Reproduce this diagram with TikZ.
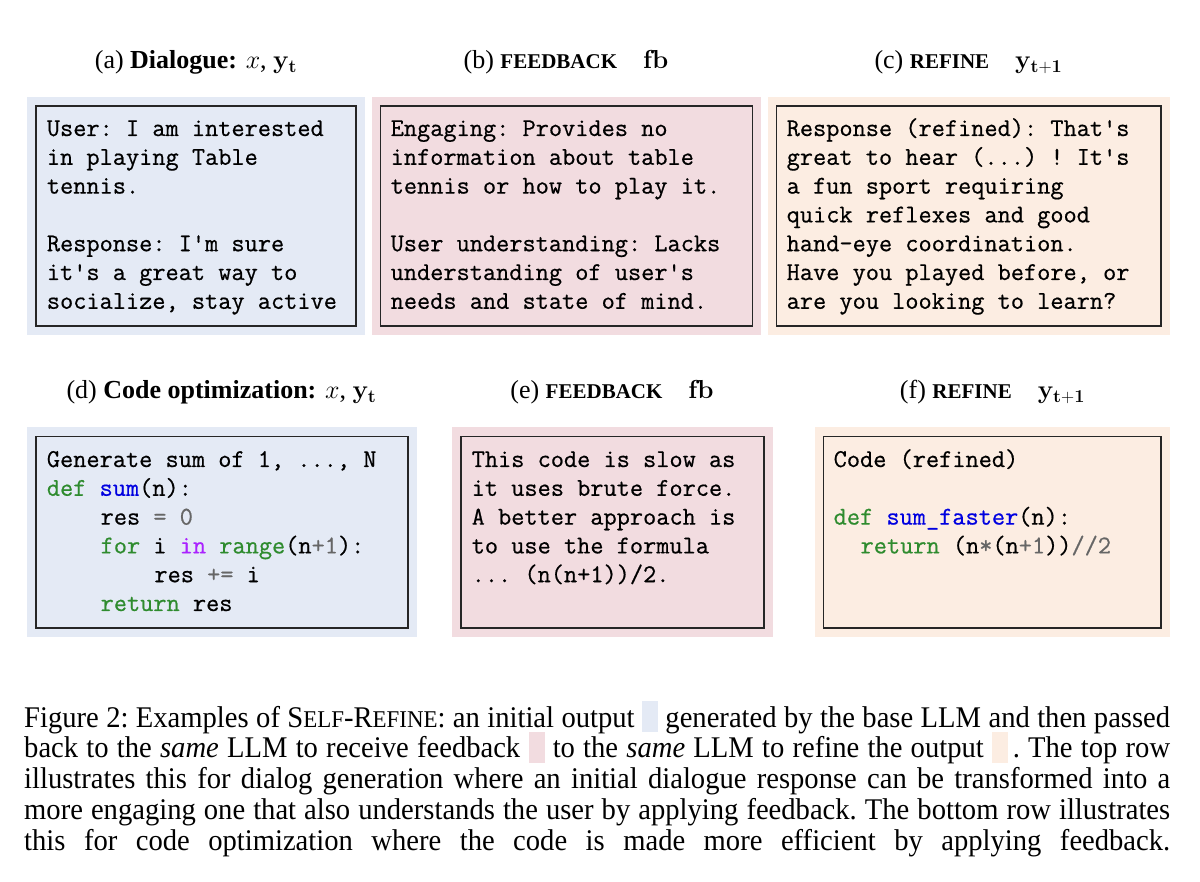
\RequirePackage{fix-cm}
\documentclass[tikz,border=0pt]{standalone}
\usepackage[no-math]{fontspec}
\setmainfont{Liberation Serif}
\setmonofont{Latin Modern Mono}[FakeBold=0.6]
\usepackage{graphicx}
\usepackage{xcolor}
\definecolor{bgblue}{RGB}{228,234,245}
\definecolor{bgpink}{RGB}{242,220,224}
\definecolor{bgpeach}{RGB}{252,237,226}
\definecolor{kwc}{HTML}{2E8B2E}
\definecolor{fnc}{HTML}{0000E0}
\definecolor{owc}{HTML}{AA22FF}
\definecolor{opc}{HTML}{666666}
\newlength\cw \setlength\cw{13.44pt}
\newcommand\monoset{\ttfamily\fontsize{25.6pt}{28.8pt}\selectfont}
\newcommand\ind[1]{\hspace*{#1\cw}}
\newcommand\Kw[1]{\textcolor{kwc}{#1}}
\newcommand\Fn[1]{\textcolor{fnc}{#1}}
\newcommand\Ow[1]{\textcolor{owc}{#1}}
\newcommand\Op[1]{\textcolor{opc}{#1}}
\newcommand\q{\textquotesingle}
\newcommand\sqbox[1]{\textcolor{#1}{\rule[-4.5pt]{16pt}{29.5pt}}}
\newcommand\fakesc[1]{{\fontsize{21pt}{25pt}\selectfont #1}}
\newcommand\capsc[1]{{\fontsize{22.9pt}{25pt}\selectfont #1}}
\tikzset{
  frame/.style={draw=black!85, line width=1.3pt},
  body/.style={anchor=base west, inner sep=0pt},
  title/.style={anchor=base, inner sep=0pt, font=\fontsize{26pt}{30pt}\selectfont},
}
\begin{document}
\begin{tikzpicture}[x=1pt,y=1pt]
\fill[white] (0,0) rectangle (1200,-882);
\useasboundingbox (0,0) rectangle (1200,-882);

% titles
\node[title] (ha) at (196,-68.5) {(a) \textbf{Dialogue:} $x$, $\mathbf{y_t}$};
\node[title] (hb) at (566,-68.5) {(b) \textbf{\fakesc{FEEDBACK}}\quad$\mathbf{fb}$};
\node[title] (hc) at (968.5,-68.5) {(c) \textbf{\fakesc{REFINE}}\quad$\mathbf{y_{t+1}}$};
\node[title] (hd) at (221.5,-399) {(d) \textbf{Code optimization:} $x$, $\mathbf{y_t}$};
\node[title] (he) at (612,-399) {(e) \textbf{\fakesc{FEEDBACK}}\quad$\mathbf{fb}$};
\node[title] (hf) at (992.5,-399) {(f) \textbf{\fakesc{REFINE}}\quad$\mathbf{y_{t+1}}$};

% backgrounds
\fill[bgblue]  (27,-97) rectangle (365,-335);
\fill[bgpink]  (371.5,-97) rectangle (761,-335);
\fill[bgpeach] (767.5,-97) rectangle (1170,-335);
\fill[bgblue]  (27,-427) rectangle (416.5,-637);
\fill[bgpink]  (452,-427) rectangle (772.5,-637);
\fill[bgpeach] (815,-427) rectangle (1170,-637);

% frames
\draw[frame] (36,-106) rectangle (356,-326);
\draw[frame] (380.5,-106) rectangle (752.5,-326);
\draw[frame] (776.5,-106) rectangle (1161,-326);
\draw[frame] (36,-436.5) rectangle (408,-628);
\draw[frame] (461,-436.5) rectangle (764,-628);
\draw[frame] (823.5,-436.5) rectangle (1161,-628);

% texts
\node[body] (ta) at (46.7,-136) {\parbox[t]{310pt}{\monoset
User: I am interested\\
in playing Table\\
tennis.\\[28.8pt]
Response: I\q m sure\\
it\q s a great way to\\
socialize, stay active}};

\node[body] (tb) at (390.5,-136) {\parbox[t]{360pt}{\monoset
Engaging: Provides no\\
information about table\\
tennis or how to play it.\\[28.8pt]
User understanding: Lacks\\
understanding of user\q s\\
needs and state of mind.}};

\node[body] (tc) at (786.5,-136) {\parbox[t]{370pt}{\monoset
Response (refined): That\q s\\
great to hear (...) ! It\q s\\
a fun sport requiring\\
quick reflexes and good\\
hand-eye coordination.\\
Have you played before, or\\
are you looking to learn?}};

\node[body] (td) at (46.7,-467) {\parbox[t]{360pt}{\monoset
Generate sum of 1, ..., N\\
\Kw{def} \Fn{sum}(n):\\
\ind{4}res \Op{=} \Op{0}\\
\ind{4}\Kw{for} i \Ow{in} \Kw{range}(n\Op{+1}):\\
\ind{8}res \Op{+=} i\\
\ind{4}\Kw{return} res}};

\node[body] (te) at (471.5,-467) {\parbox[t]{290pt}{\monoset
This code is slow as\\
it uses brute force.\\
A better approach is\\
to use the formula\\
... (n(n+1))/2.}};

\node[body] (tf) at (833.5,-467) {\parbox[t]{320pt}{\monoset
Code (refined)\\[28.8pt]
\Kw{def} \Fn{sum\_faster}(n):\\
\ind{2}\Kw{return} (n\Op{*}(n\Op{+1}))\Op{//2}}};

% caption
\node[body] (cap) at (24,-727) {\scalebox{1}[1.05]{\parbox[t]{1146pt}{\fontsize{28.6pt}{29.5pt}\selectfont\lineskiplimit=-100pt\frenchspacing\parfillskip=0pt
Figure 2: Examples of S\capsc{ELF}-R\capsc{EFINE}: an initial output \sqbox{bgblue} generated by the base LLM and then passed\linebreak
back to the \textit{same} LLM to receive feedback \sqbox{bgpink} to the \textit{same} LLM to refine the output \sqbox{bgpeach}\,. The top row\linebreak
illustrates this for dialog generation where an initial dialogue response can be transformed into a\linebreak
more engaging one that also understands the user by applying feedback. The bottom row illustrates\linebreak
this for code optimization where the code is made more efficient by applying feedback.}}};
\end{tikzpicture}
\end{document}
